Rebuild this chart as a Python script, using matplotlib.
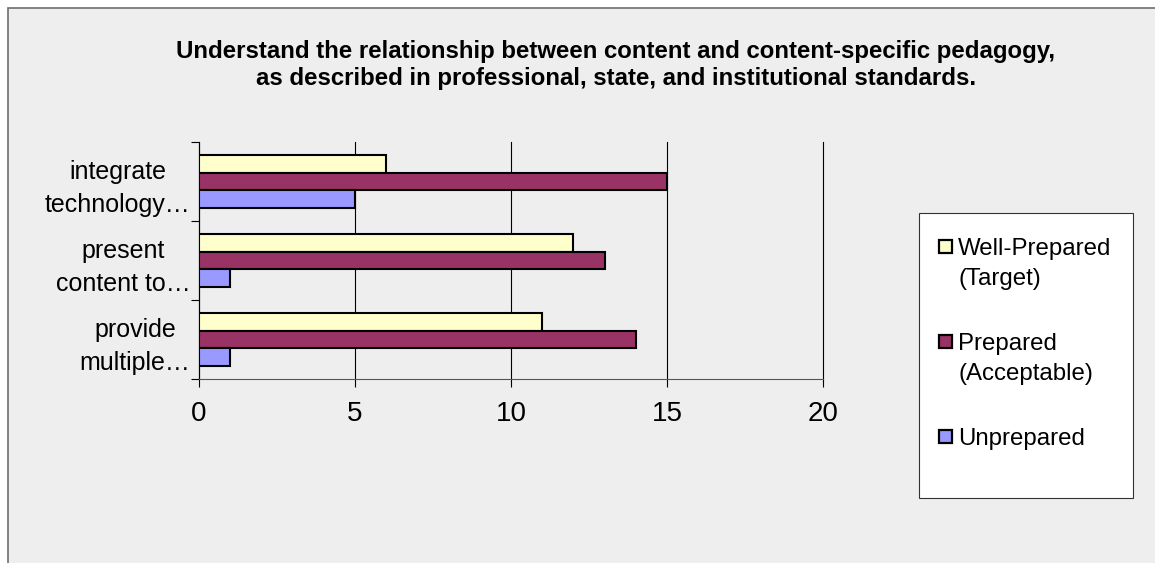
import matplotlib
matplotlib.use("Agg")
import matplotlib.pyplot as plt
import numpy as np
from matplotlib.patches import Rectangle

plt.rcParams['font.family'] = ['Liberation Sans', 'DejaVu Sans']

title = ("Understand the relationship between content and content-specific pedagogy,\n"
         "as described in professional, state, and institutional standards.")
categories = ["integrate\ntechnology…", "present\ncontent to…", "provide\nmultiple…"]
series_names = ["Well-Prepared\n(Target)", "Prepared\n(Acceptable)", "Unprepared"]
well_prepared = [6, 12, 11]
prepared = [15, 13, 14]
unprepared = [5, 1, 1]
x_ticks = [0, 5, 10, 15, 20]

colors = ["#FFFFCC", "#993366", "#9999FF"]
values = [well_prepared, prepared, unprepared]

W, H = 1155, 563
fig = plt.figure(figsize=(W / 100, H / 100), dpi=100, facecolor="white")

# chart area background with border (runs off the right/bottom edges)
fig.patches.append(Rectangle((8 / W, -0.05), 1.2, 1 - 8 / H + 0.05,
                             transform=fig.transFigure, facecolor="#EEEEEE",
                             edgecolor="#6E6E6E", linewidth=1.2, zorder=-5))

ax = fig.add_axes([199 / W, 1 - 379 / H, 624 / W, 237 / H])
ax.set_facecolor("none")
ax.set_zorder(2)

bar_h = 0.22
y = np.arange(len(categories))
for i, (vals, col) in enumerate(zip(values, colors)):
    ax.barh(y + (i - 1) * bar_h, vals, height=bar_h, color=col,
            edgecolor="black", linewidth=1.5, zorder=3)

ax.set_xlim(0, 20)
ax.set_ylim(len(categories) - 0.5, -0.5)
ax.set_xticks(x_ticks)
ax.set_xticklabels([str(t) for t in x_ticks], fontsize=20)
ax.tick_params(axis="x", direction="out", length=6, width=0.8, pad=10, colors="black")

ax.set_yticks(y)
ax.set_yticklabels(categories, fontsize=18, multialignment="center", linespacing=1.45)
ax.set_yticks(np.arange(len(categories) + 1) - 0.5, minor=True)
ax.tick_params(axis="y", which="major", length=0, pad=6)
ax.tick_params(axis="y", which="minor", direction="out", length=6, width=0.8)

ax.grid(axis="x", color="black", linewidth=0.8, zorder=1)
for gl in ax.get_xgridlines():
    gl.set_clip_on(False)
for s in ["top", "right"]:
    ax.spines[s].set_visible(False)
ax.spines["left"].set_linewidth(0.8)
ax.spines["bottom"].set_linewidth(0.8)
ax.spines["bottom"].set_color("#555555")

fig.text(616 / W, 1 - 65 / H, title, ha="center", va="center", fontsize=17.3,
         fontweight="bold", linespacing=1.25)

# legend box
fig.patches.append(Rectangle((919 / W, 1 - 498 / H), 214 / W, 285 / H,
                             transform=fig.transFigure, facecolor="white",
                             edgecolor="#333333", linewidth=0.8, zorder=1))
entry_y = [246.7, 341.7, 436.7]
for name, col, ey in zip(series_names, colors, entry_y):
    fig.patches.append(Rectangle((939 / W, 1 - (ey + 6.5) / H), 13 / W, 13 / H,
                                 transform=fig.transFigure, facecolor=col,
                                 edgecolor="black", linewidth=1.6, zorder=2))
    for k, line in enumerate(name.split("\n")):
        fig.text(958 / W, 1 - (ey + 30 * k) / H, line, ha="left",
                 va="center_baseline", fontsize=17.3)

fig.savefig("out.png", dpi=100, facecolor="white")
